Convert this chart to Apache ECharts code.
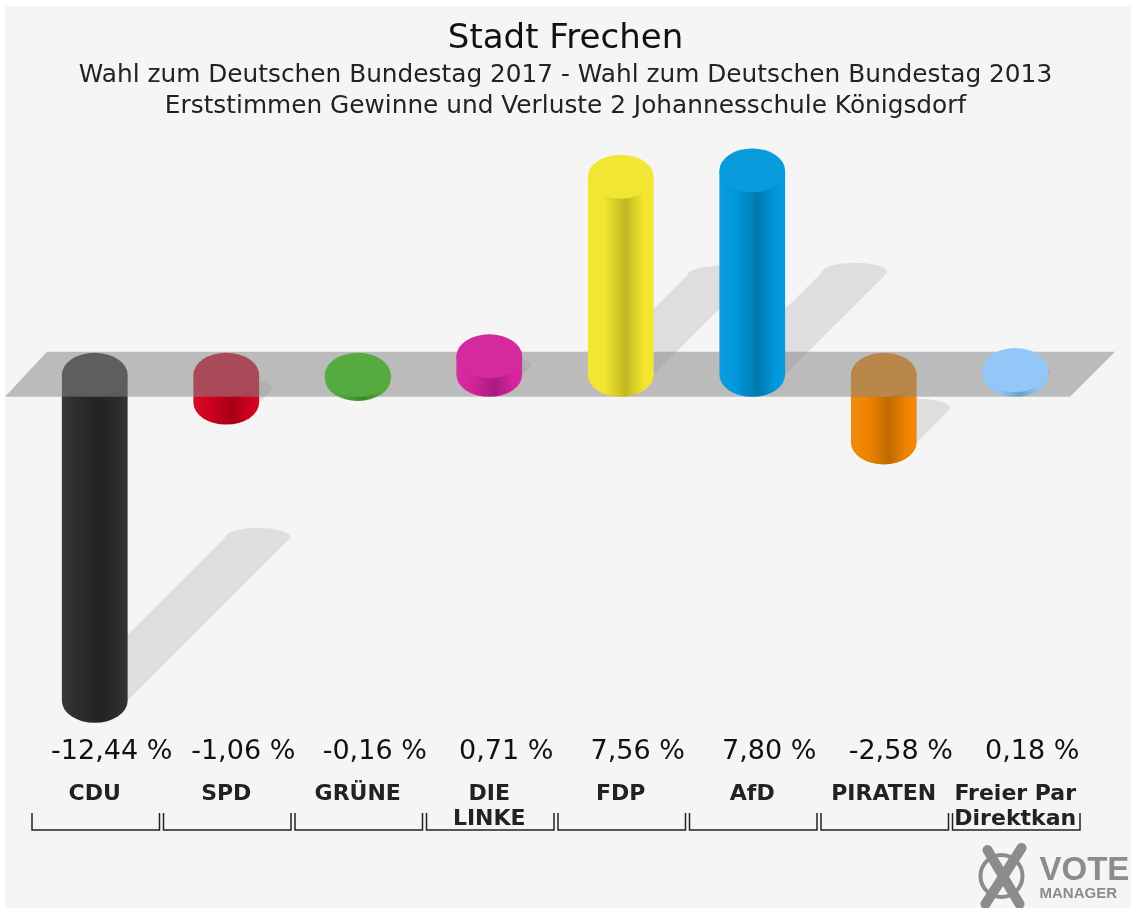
<!DOCTYPE html>
<html>
<head>
<meta charset="utf-8">
<script src="https://cdn.jsdelivr.net/npm/echarts@6/dist/echarts.min.js"></script>
<style>
  html, body { margin: 0; padding: 0; background: #fff; }
  #main { width: 1131px; height: 908px; }
</style>
</head>
<body>
<div id="main"></div>
<script>
var categories = ["CDU", "SPD", "GRÜNE", "DIE\nLINKE", "FDP", "AfD", "PIRATEN", "Freier Par\nDirektkan"];
var values = [-12.44, -1.06, -0.16, 0.71, 7.56, 7.8, -2.58, 0.18];
var barColors = ["#2c2c2c", "#d0001d", "#4ea838", "#d4229a", "#f2e52c", "#0097dc", "#f08400", "#8fc5f7"];
var valueLabels = values.map(function (v) {
  return v.toFixed(2).replace(".", ",") + " %";
});

var chartDom = document.getElementById("main");
var myChart = echarts.init(chartDom);
var option;

var RY = 22;
var FONT = "DejaVu Sans";

// scale rgb channels by k (k < 1 darkens)
function shade(c, k) {
  var a = echarts.color.parse(c);
  return "rgb(" + [0, 1, 2].map(function (j) {
    return Math.max(0, Math.min(255, Math.round(a[j] * k)));
  }).join(",") + ")";
}

function sideGradient(c) {
  return new echarts.graphic.LinearGradient(0, 0, 1, 0, [
    { offset: 0, color: echarts.color.lift(c, 0.06) },
    { offset: 0.25, color: c },
    { offset: 0.58, color: shade(c, 0.8) },
    { offset: 0.85, color: c },
    { offset: 1, color: echarts.color.lift(c, 0.04) },
  ]);
}

// tall negative bars sit behind the zero plane, everything else in front
function isBehind(v) {
  return v < -0.5;
}

function cylinder(params, api, behind) {
  var i = params.dataIndex;
  var v = api.value(1);
  if (isBehind(v) !== behind) return null;
  var base = api.coord([i, 0]);
  var end = api.coord([i, v]);
  var cx = base[0];
  var rx = api.size([1, 0])[0] * 0.25;
  var yTop = Math.min(base[1], end[1]);
  var yBot = Math.max(base[1], end[1]);
  var c = barColors[i];
  var body =
    "M" + (cx - rx) + " " + yTop +
    " L" + (cx - rx) + " " + yBot +
    " A" + rx + " " + RY + " 0 0 0 " + (cx + rx) + " " + yBot +
    " L" + (cx + rx) + " " + yTop + " Z";
  var cap =
    "M" + (cx - rx) + " " + yTop +
    " A" + rx + " " + RY + " 0 1 0 " + (cx + rx) + " " + yTop +
    " A" + rx + " " + RY + " 0 1 0 " + (cx - rx) + " " + yTop + " Z";
  return {
    type: "group",
    children: [
      { type: "path", shape: { pathData: body }, style: { fill: sideGradient(c) } },
      { type: "path", shape: { pathData: cap }, style: { fill: echarts.color.lift(c, 0.04) } },
    ],
  };
}

option = {
  backgroundColor: "#ffffff",
  title: {
    left: "center",
    top: 17,
    text: "Stadt Frechen",
    subtext:
      "Wahl zum Deutschen Bundestag 2017 - Wahl zum Deutschen Bundestag 2013\nErststimmen Gewinne und Verluste 2 Johannesschule Königsdorf",
    itemGap: 4,
    textStyle: { fontFamily: FONT, fontSize: 34, fontWeight: "normal", color: "#111" },
    subtextStyle: { fontFamily: FONT, fontSize: 24.8, lineHeight: 31, color: "#222" },
  },
  graphic: [
    { type: "rect", left: 5, top: 6, z: -10, shape: { width: 1126, height: 902 }, style: { fill: "#f5f5f5" } },
    {
      type: "group",
      left: 978,
      top: 843,
      children: [
        { type: "circle", shape: { cx: 22, cy: 30, r: 21 }, style: { fill: "none", stroke: "#8c8c8c", lineWidth: 4 } },
        { type: "line", shape: { x1: 8, y1: 4, x2: 40, y2: 58 }, style: { stroke: "#8c8c8c", lineWidth: 10, lineCap: "round" } },
        { type: "line", shape: { x1: 42, y1: 2, x2: 6, y2: 58 }, style: { stroke: "#8c8c8c", lineWidth: 10, lineCap: "round" } },
        { type: "text", x: 60, y: 8, style: { text: "VOTE", font: "bold 33px Liberation Sans", fill: "#8c8c8c" } },
        { type: "text", x: 60, y: 40, style: { text: "MANAGER", font: "bold 15px Liberation Sans", fill: "#8c8c8c" } },
      ],
    },
  ],
  grid: { left: 29, right: 50, top: 139, bottom: 78 },
  xAxis: {
    type: "category",
    data: categories,
    axisLine: { show: false },
    axisTick: { show: false },
    splitLine: { show: false },
    axisLabel: {
      inside: true,
      interval: 0,
      margin: -2,
      fontFamily: FONT,
      fontWeight: "bold",
      fontSize: 22,
      lineHeight: 25,
      color: "#222",
      formatter: function (n) {
        return n.indexOf("\n") >= 0 ? n : n + "\n ";
      },
    },
  },
  yAxis: { type: "value", min: -17.37, max: 9, show: false },
  series: [
    {
      // shadows
      type: "custom",
      z: 1,
      data: values.map(function (v, i) { return [i, v]; }),
      renderItem: function (params, api) {
        var i = params.dataIndex;
        var v = api.value(1);
        var base = api.coord([i, 0]);
        var end = api.coord([i, v]);
        var cx = base[0];
        var rx = api.size([1, 0])[0] * 0.25;
        var yLow = Math.max(base[1], end[1]);
        var d = Math.abs(end[1] - base[1]) * 0.5;
        return {
          type: "group",
          children: [
            {
              type: "polygon",
              shape: { points: [[cx - rx, yLow], [cx + rx, yLow], [cx + rx + d, yLow - d], [cx - rx + d, yLow - d]] },
              style: { fill: "#dedede" },
            },
            {
              type: "path",
              shape: {
                pathData:
                  "M" + (cx - rx + d) + " " + (yLow - d) +
                  " A" + rx + " 10 0 1 1 " + (cx + rx + d) + " " + (yLow - d) + " Z",
              },
              style: { fill: "#dedede" },
            },
          ],
        };
      },
    },
    {
      // bars behind the zero plane
      type: "custom",
      z: 2,
      data: values.map(function (v, i) { return [i, v]; }),
      renderItem: function (params, api) { return cylinder(params, api, true); },
    },
    {
      // zero plane
      type: "custom",
      z: 3,
      data: [[0, 0]],
      renderItem: function (params, api) {
        var cs = params.coordSys;
        var y0 = api.coord([0, 0])[1];
        var l = cs.x;
        var r = cs.x + cs.width;
        return {
          type: "polygon",
          shape: { points: [[l + 18, y0 - 23], [r + 34, y0 - 23], [r - 11, y0 + 22], [l - 24, y0 + 22]] },
          style: { fill: "rgba(134,134,134,0.52)" },
        };
      },
    },
    {
      // bars in front of the zero plane
      type: "custom",
      z: 4,
      data: values.map(function (v, i) { return [i, v]; }),
      renderItem: function (params, api) { return cylinder(params, api, false); },
    },
    {
      // value labels and brackets
      type: "custom",
      z: 5,
      data: values.map(function (v, i) { return [i, v]; }),
      renderItem: function (params, api) {
        var i = params.dataIndex;
        var cx = api.coord([i, 0])[0];
        var w = api.size([1, 0])[0];
        var cs = params.coordSys;
        var yb = cs.y + cs.height;
        var l = cx - w / 2 + 3;
        var r = cx + w / 2 - 1;
        return {
          type: "group",
          children: [
            {
              type: "text",
              x: cx + 17,
              y: yb - 78,
              style: {
                text: valueLabels[i],
                font: "27px " + FONT,
                fill: "#111",
                align: "center",
                verticalAlign: "middle",
              },
            },
            {
              type: "polyline",
              shape: { points: [[l, yb - 17], [l, yb], [r, yb], [r, yb - 17]] },
              style: { fill: "none", stroke: "#222", lineWidth: 1.5 },
            },
          ],
        };
      },
    },
  ],
};

option && myChart.setOption(option);
</script>
</body>
</html>
